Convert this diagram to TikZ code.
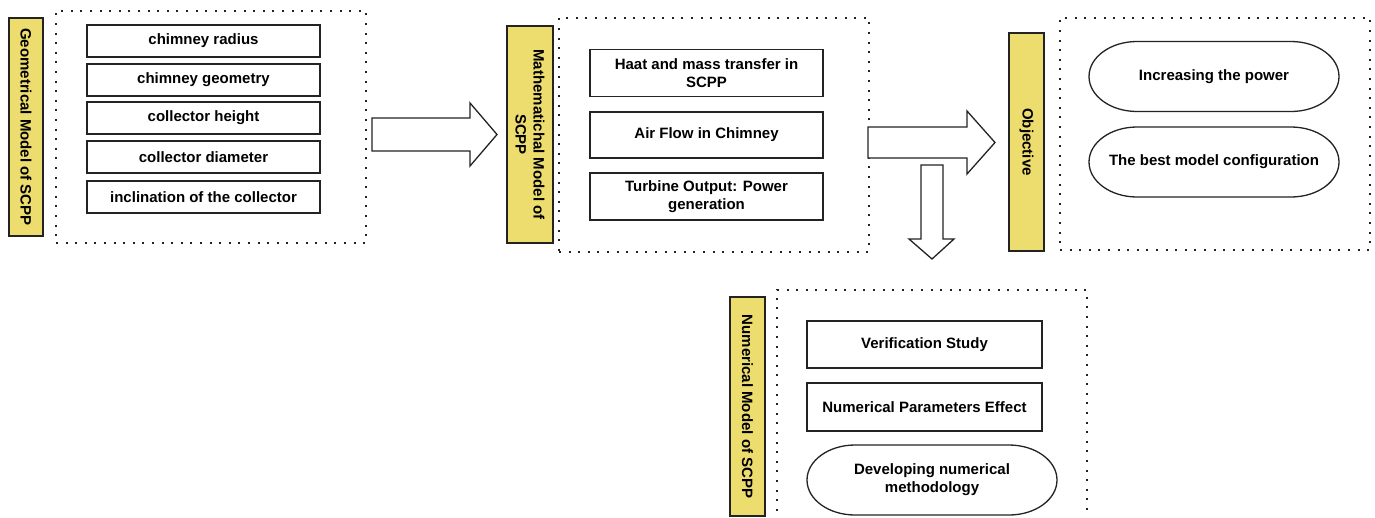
\documentclass[tikz,border=0pt]{standalone}
\usepackage{fontspec}
\setmainfont{Liberation Sans}
\definecolor{barfill}{RGB}{237,220,110}
\definecolor{edge}{RGB}{35,35,35}
\newcommand{\pilloutline}[1]{%
	\draw [pilledge] ([xshift=48pt]#1.north west) -- ([xshift=-48pt]#1.north east)
		arc [start angle=90, end angle=-90, x radius=48pt, y radius=35pt]
		-- ([xshift=48pt]#1.south west)
		arc [start angle=270, end angle=90, x radius=48pt, y radius=35pt] -- cycle;}
\begin{document}
\begin{tikzpicture}[x=1pt, y=-1pt,
		every node/.style={font=\fontsize{15}{18}\selectfont\bfseries, text=black},
		titlebar/.style={draw=edge, line width=1.4pt, fill=barfill, rotate=-90, inner sep=2pt, align=center},
		itembox/.style={draw=edge, line width=1.4pt, fill=white, inner sep=2pt, align=center},
		pillbox/.style={inner sep=2pt, outer sep=0pt, align=center},
		pilledge/.style={draw=edge, line width=1.3pt},
		dotframe/.style={draw=edge, line width=1.5pt, dash pattern=on 2pt off 7.6pt},
		blockarrow/.style={draw=edge, line width=1.3pt, fill=white, line join=miter}]
	\useasboundingbox (0,0) rectangle (1375,517);

	\node [titlebar, minimum width=218, minimum height=34] at (26,127) (geobar) {Geometrical Model of SCPP};
	\node [dotframe, minimum width=310, minimum height=232] at (211,127) (geoframe) {};
	\node [itembox, minimum width=233, minimum height=32] at (203.5,41) (radius) {chimney radius};
	\node [itembox, minimum width=233, minimum height=32] at (203.5,80) (geometry) {chimney geometry};
	\node [itembox, minimum width=233, minimum height=32] at (203.5,118) (height) {collector height};
	\node [itembox, minimum width=233, minimum height=32] at (203.5,157) (diameter) {collector diameter};
	\node [itembox, minimum width=233, minimum height=32] at (203.5,197) (incline) {inclination of the collector};

	\node [titlebar, minimum width=217, minimum height=46] at (530,134.5) (mathbar) {Mathematichal Model of\\SCPP};
	\node [dotframe, minimum width=310, minimum height=234] at (714,135) (mathframe) {};
	\node [itembox, minimum width=233, minimum height=47] at (706.5,73) (heat) {Haat and mass transfer in\\SCPP};
	\node [itembox, minimum width=233, minimum height=46] at (706.5,135) (airflow) {Air Flow in Chimney};
	\node [itembox, minimum width=233, minimum height=47] at (706.5,196.5) (turbine) {Turbine Output: Power\\generation};

	\node [titlebar, minimum width=218, minimum height=35] at (1026.5,142) (objbar) {Objective};
	\node [dotframe, minimum width=310, minimum height=232] at (1215,134) (objframe) {};
	\node [pillbox, minimum width=250, minimum height=70] at (1214,76.5) (power) {Increasing the power};
	\node [pillbox, minimum width=250, minimum height=70] at (1214,162) (config) {The best model configuration};
	\pilloutline{power}
	\pilloutline{config}

	\node [titlebar, minimum width=219, minimum height=35] at (747.5,406.5) (numbar) {Numerical Model of SCPP};
	\draw [dotframe] (777,530) -- (777,290) -- (1087,290) -- (1087,530);
	\node [itembox, minimum width=235, minimum height=47] at (924.5,344.5) (verify) {Verification Study};
	\node [itembox, minimum width=235, minimum height=48] at (924.5,407) (params) {Numerical Parameters Effect};
	\node [pillbox, minimum width=250, minimum height=70] at (932,480) (method) {Developing numerical\\methodology};
	\pilloutline{method}

	\draw [blockarrow] (372,118) -- (470,118) -- (470,103) -- (497,134.5)
		-- (470,166) -- (470,151) -- (372,151) -- cycle;
	\draw [blockarrow] (868,127) -- (967,127) -- (967,111) -- (995,142.5)
		-- (967,174) -- (967,158) -- (868,158) -- cycle;
	\draw [blockarrow] (921,165) -- (943,165) -- (943,239) -- (954,239)
		-- (932,259) -- (909,239) -- (921,239) -- cycle;
\end{tikzpicture}
\end{document}
